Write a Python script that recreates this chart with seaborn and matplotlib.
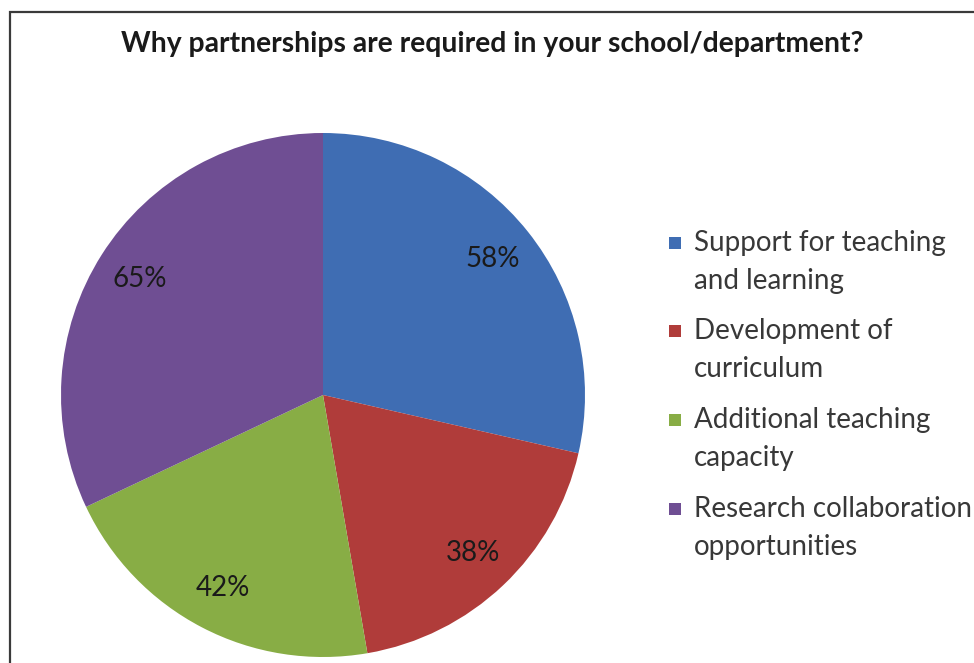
import matplotlib
matplotlib.use("Agg")
import matplotlib.pyplot as plt
from matplotlib.patches import Rectangle
import seaborn as sns

# Survey responses (share of respondents, %)
categories = [
    "Support for teaching\nand learning",
    "Development of\ncurriculum",
    "Additional teaching\ncapacity",
    "Research collaboration\nopportunities",
]
values = [58, 38, 42, 65]
colors = ["#3F6DB3", "#B03C3A", "#88AD45", "#6F4E93"]
title = "Why partnerships are required in your school/department?"

sns.set_theme(style="white")
plt.rcParams["font.family"] = ["Lato", "DejaVu Sans"]

W, H = 974, 663
fig = plt.figure(figsize=(W / 100, H / 100), dpi=100)
fig.patch.set_facecolor("white")

# Pie axes positioned in pixel terms
cx, cy, r = 323, 395, 262
ax = fig.add_axes([(cx - r) / W, (H - cy - r) / H, 2 * r / W, 2 * r / H])
wedges, texts = ax.pie(
    values,
    colors=colors,
    startangle=90,
    counterclock=False,
    labels=[f"{v}%" for v in values],
    labeldistance=0.83,
    wedgeprops=dict(linewidth=0),
    textprops=dict(fontsize=20, color="#1a1a1a"),
)
for t in texts:
    t.set_ha("center")
    t.set_va("center")
ax.set_xlim(-1, 1)
ax.set_ylim(-1, 1)
ax.set_aspect("equal")
ax.axis("off")

# Chart frame
fig.patches.append(Rectangle((10 / W, -0.05), 1.2, (H - 12) / H + 0.05,
                             transform=fig.transFigure, fill=False,
                             edgecolor="#3a3a3a", linewidth=1.6))

fig.text(492 / W, 1 - 44 / H, title, ha="center", va="center",
         fontsize=20.3, fontweight="bold", color="#1a1a1a")

# Legend
legend_rows = [243, 331, 420, 509]
for lbl, col, y in zip(categories, colors, legend_rows):
    fig.patches.append(Rectangle((669 / W, 1 - (y + 6) / H), 12 / W, 12 / H,
                                 transform=fig.transFigure, facecolor=col,
                                 edgecolor="none"))
    fig.text(694 / W, 1 - (y - 13) / H, lbl, ha="left", va="top",
             fontsize=20, color="#383838", linespacing=1.55)

fig.savefig("out.png", dpi=100)
